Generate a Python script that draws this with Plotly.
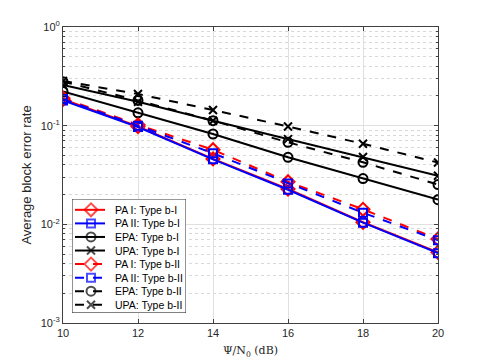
import plotly.graph_objects as go

# SNR points (dB)
snr = [10, 12, 14, 16, 18, 20]

# average block error rate
pa1_b1 = [0.185, 0.098, 0.0460, 0.0228, 0.0105, 0.0052]
pa2_b1 = [0.180, 0.097, 0.0456, 0.0224, 0.0104, 0.0051]
epa_b1 = [0.222, 0.135, 0.0823, 0.0478, 0.0291, 0.0178]
upa_b1 = [0.258, 0.175, 0.1123, 0.0730, 0.0481, 0.0311]
pa1_b2 = [0.190, 0.102, 0.0570, 0.0270, 0.0142, 0.0071]
pa2_b2 = [0.186, 0.100, 0.0525, 0.0260, 0.0131, 0.0069]
epa_b2 = [0.279, 0.180, 0.1123, 0.0678, 0.0425, 0.0253]
upa_b2 = [0.284, 0.209, 0.1441, 0.0981, 0.0655, 0.0423]

names = ['PA I: Type b-I', 'PA II: Type b-I', 'EPA: Type b-I', 'UPA: Type b-I',
         'PA I: Type b-II', 'PA II: Type b-II', 'EPA: Type b-II', 'UPA: Type b-II']
series = [pa1_b1, pa2_b1, epa_b1, upa_b1, pa1_b2, pa2_b2, epa_b2, upa_b2]
colors = ['#ff0000', '#0000ff', '#000000', '#000000'] * 2
symbols = ['diamond-open', 'square-open', 'circle-open', 'x-thin-open'] * 2
sizes = [10, 8, 9, 8] * 2
dashes = ['solid'] * 4 + ['dash'] * 4

ytick_vals = [1e-3, 1e-2, 1e-1, 1]
ytick_text = ['10<sup>-3</sup>', '10<sup>-2</sup>', '10<sup>-1</sup>', '10<sup>0</sup>']
minor_vals = [m * 10.0 ** e for e in (-3, -2, -1) for m in range(2, 10)]

fig = go.Figure()
for nm, y, c, s, sz, d in zip(names, series, colors, symbols, sizes, dashes):
    fig.add_trace(go.Scatter(x=snr, y=y, mode='lines+markers', name=nm,
                             line=dict(color=c, width=2, dash=d),
                             marker=dict(symbol=s, size=sz, color=c,
                                         line=dict(color=c, width=2)),
                             showlegend=False))

# legend drawn on a small inset axis (MATLAB-style compact legend)
ylo, yhi = -0.8, 7.6
fig.add_trace(go.Scatter(x=[0, 114, 114, 0, 0], y=[ylo, ylo, yhi, yhi, ylo],
                         xaxis='x2', yaxis='y2',
                         mode='lines', fill='toself', fillcolor='white',
                         line=dict(color='#262626', width=1), hoverinfo='skip',
                         showlegend=False))
for i, (nm, c, s, sz, d) in enumerate(zip(names, colors, symbols, sizes, dashes)):
    fig.add_trace(go.Scatter(x=[3, 19, 33], y=[i] * 3, xaxis='x2', yaxis='y2',
                             mode='lines+markers', line=dict(color=c, width=2, dash=d),
                             marker=dict(symbol=s, size=[0, sz, 0], color=c,
                                         line=dict(color=c, width=2)),
                             hoverinfo='skip', showlegend=False))
    fig.add_annotation(x=41, y=i, xref='x2', yref='y2', text=nm, showarrow=False,
                       xanchor='left', yanchor='middle',
                       font=dict(size=10.5, color='#000000'))

# page body has an 8px margin, so the figure is a bit smaller than the window
fig.update_layout(
    width=477, height=355,
    margin=dict(l=55, r=47, t=19, b=40),
    paper_bgcolor='white', plot_bgcolor='white',
    font=dict(family='Liberation Sans, Arial, sans-serif', size=11, color='#262626'),
    showlegend=False,
    xaxis=dict(range=[10, 20], tickvals=[10, 12, 14, 16, 18, 20], automargin=False,
               showline=True, linecolor='#404040', linewidth=1, mirror='ticks',
               ticks='inside', ticklen=4, tickcolor='#404040',
               showgrid=True, gridcolor='#e0e0e0', gridwidth=1, zeroline=False,
               title=dict(text='Ψ/N<sub>0</sub> (dB)', standoff=8,
                          font=dict(family='DejaVu Serif, Liberation Serif, serif', size=11))),
    yaxis=dict(type='log', range=[-3, 0], tickvals=ytick_vals, ticktext=ytick_text,
               automargin=False,
               showline=True, linecolor='#404040', linewidth=1, mirror='ticks',
               ticks='inside', ticklen=4, tickcolor='#404040',
               showgrid=True, gridcolor='#e0e0e0', gridwidth=1, zeroline=False,
               minor=dict(tickvals=minor_vals, ticks='inside', ticklen=2,
                          tickcolor='#404040', showgrid=True,
                          gridcolor='#d8d8d8', griddash='dot', gridwidth=1),
               title=dict(text='Average block error rate', standoff=6)),
    xaxis2=dict(domain=[0.024, 0.328], range=[0, 114], visible=False, fixedrange=True),
    yaxis2=dict(domain=[0.034, 0.419], range=[yhi, ylo], visible=False, fixedrange=True),
)
fig.update_layout(xaxis2_anchor='y2', yaxis2_anchor='x2')

fig.write_html("out.html")
